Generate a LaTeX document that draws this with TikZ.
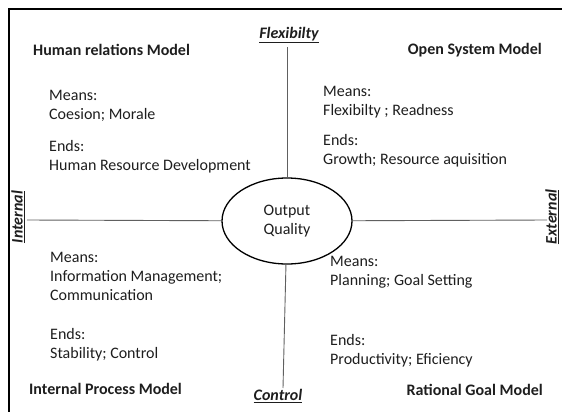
\documentclass[tikz,border=0pt]{standalone}
\usepackage{fontspec}
\setmainfont{Carlito}
\usetikzlibrary{shapes.geometric}
\definecolor{axisgray}{HTML}{606060}
\definecolor{txt}{HTML}{1E1E1E}
\tikzset{
  body/.style={font=\fontsize{16}{19}\selectfont, text=txt, align=left, inner sep=0pt},
  title/.style={font=\fontsize{16}{19}\selectfont\bfseries, text=txt, inner sep=0pt},
  axislabel/.style={font=\fontsize{16}{19}\selectfont\bfseries\itshape, text=txt, inner sep=0pt},
  axisline/.style={draw=axisgray, line width=0.9pt},
}
\begin{document}
\begin{tikzpicture}[x=1pt,y=-1pt]
\useasboundingbox (0,0) rectangle (562,412);
% frame (cropped)
\draw[line width=1.4pt] (9,412) -- (9,9) -- (562,9);
% centre ellipse
\node[ellipse, draw, line width=1.3pt, fill=white, minimum width=130pt, minimum height=86pt, inner sep=0pt, align=center, font=\fontsize{16}{19}\selectfont, text=txt] (oq) at (287,221) {Output\\Quality};
% axis end points
\coordinate (ntop) at (287,47);
\coordinate (nbot) at (283,388);
\coordinate (wend) at (27,220);
\coordinate (eend) at (547,220);
\draw[axisline] (ntop) -- (oq);
\draw[axisline] (oq) -- (nbot);
\draw[axisline] (wend) -- (oq);
\draw[axisline] (oq) -- (eend);
% axis labels
\node[axislabel] (flex) at (289,35) {\underline{Flexibilty}};
\node[axislabel] (ctrl) at (278,396) {\underline{Control}};
\node[axislabel, rotate=90] (intl) at (18,217) {\underline{Internal}};
\node[axislabel, rotate=90] (extl) at (552,217) {\underline{External}};
% quadrant titles
\node[title, anchor=west] (hrm) at (33,50) {Human relations Model};
\node[title, anchor=east] (osm) at (542,50) {Open System Model};
\node[title, anchor=west] (ipm) at (29,389) {Internal Process Model};
\node[title, anchor=east] (rgm) at (543,390) {Rational Goal Model};
% quadrant texts
\node[body, anchor=west] (tlm) at (49,105.5) {Means:\\Coesion; Morale};
\node[body, anchor=west] (tle) at (49,157) {Ends:\\Human Resource Development};
\node[body, anchor=west] (trm) at (323,102) {Means:\\Flexibilty ; Readness};
\node[body, anchor=west] (tre) at (323,150.5) {Ends:\\Growth; Resource aquisition};
\node[body, anchor=west] (blm) at (50,276.5) {Means:\\Information Management;\\Communication};
\node[body, anchor=west] (ble) at (50,344.5) {Ends:\\Stability; Control};
\node[body, anchor=west] (brm) at (330,272) {Means:\\Planning; Goal Setting};
\node[body, anchor=west] (bre) at (330,350.5) {Ends:\\Productivity; Eficiency};
\end{tikzpicture}
\end{document}
